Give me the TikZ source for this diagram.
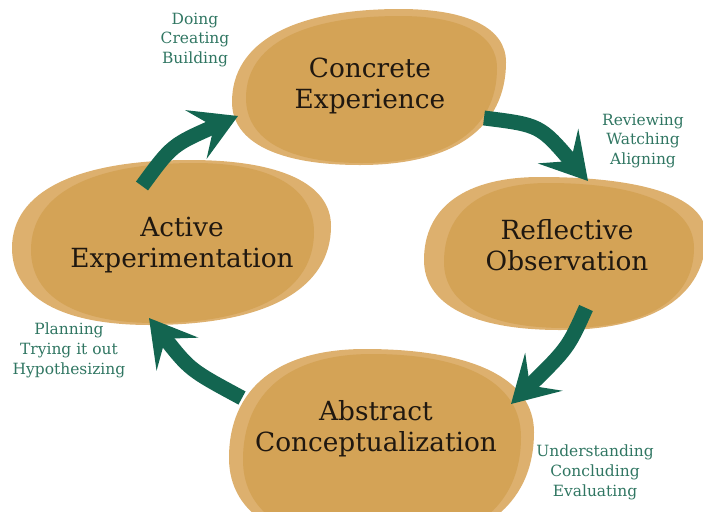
\documentclass[tikz,border=0pt]{standalone}
\usepackage{fontspec}
\setmainfont{DejaVu Serif}
\usetikzlibrary{arrows.meta}

\definecolor{blobback}{RGB}{221,176,110}
\definecolor{blobfront}{RGB}{212,163,86}
\definecolor{arrowgreen}{RGB}{19,101,80}
\definecolor{labelgreen}{RGB}{48,118,98}
\definecolor{stagetext}{RGB}{32,24,16}

% rounded blob through its left, top, right and bottom points
\newcommand{\blobpath}[8]{(#1,#2) .. controls (#1,{#2-0.64*(#2-#4)}) and ({#3-0.64*(#3-#1)},#4) .. (#3,#4)
	.. controls ({#3+0.64*(#5-#3)},#4) and (#5,{#6-0.64*(#6-#4)}) .. (#5,#6)
	.. controls (#5,{#6+0.64*(#8-#6)}) and ({#7+0.64*(#5-#7)},#8) .. (#7,#8)
	.. controls ({#7-0.64*(#7-#1)},#8) and (#1,{#2+0.64*(#8-#2)}) .. (#1,#2) -- cycle}

\begin{document}
\begin{tikzpicture}[x=0.02cm, y=-0.02cm,
		back/.style={fill=blobback},
		front/.style={fill=blobfront},
		stage/.style={align=center, text=stagetext, font=\fontsize{15}{17.6}\selectfont},
		doing/.style={align=center, text=labelgreen, font=\fontsize{8.8}{11.3}\selectfont},
		cyclearrow/.style={draw=arrowgreen, line width=8.5pt,
			-{Stealth[length=26pt, width=30pt, inset=11pt]}}]

		\useasboundingbox (0,0) rectangle (703,511);
		\clip (0,0) rectangle (703,511);

		% Concrete Experience
		\fill[back] \blobpath{232}{102}{400}{9}{506}{62}{360}{165};
		\fill[front] \blobpath{246}{98}{400}{16}{497}{68}{362}{163};
		\node[stage] (ce) at (370,86) {Concrete\\Experience};

		% Reflective Observation
		\fill[back] \blobpath{424}{260}{540}{177}{706}{235}{560}{330};
		\fill[front] \blobpath{444}{262}{548}{183}{694}{248}{565}{328};
		\node[stage] (ro) at (567,245) {Reflective\\Observation};

		% Abstract Conceptualization
		\fill[back] \blobpath{229}{458}{365}{349}{534}{432}{380}{548};
		\fill[front] \blobpath{243}{460}{372}{354}{521}{437}{382}{546};
		\node[stage] (ac) at (376,429) {Abstract\\Conceptualization};

		% Active Experimentation
		\fill[back] \blobpath{12}{248}{190}{160}{331}{226}{150}{325};
		\fill[front] \blobpath{31}{250}{195}{163}{314}{232}{155}{323};
		\node[stage] (ae) at (182,245) {Active\\Experimentation};

		% arrow ends on the blob rims
		\coordinate (ae-out) at (142,186);
		\coordinate (ce-in) at (238,116);
		\coordinate (ce-out) at (484,118);
		\coordinate (ro-in) at (588,181);
		\coordinate (ro-out) at (586,308);
		\coordinate (ac-in) at (511,404);
		\coordinate (ac-out) at (242,398);
		\coordinate (ae-in) at (149,318);

		\draw[cyclearrow] (ae-out) .. controls (172,145) .. (ce-in);
		\draw[cyclearrow] (ce-out) .. controls (540,125) .. (ro-in);
		\draw[cyclearrow] (ro-out) .. controls (568,348) .. (ac-in);
		\draw[cyclearrow] (ac-out) .. controls (190,370) .. (ae-in);

		% what each stage involves
		\node[doing] (ce-doing) at (195,40) {Doing\\Creating\\Building};
		\node[doing] (ro-doing) at (643,141) {Reviewing\\Watching\\Aligning};
		\node[doing] (ac-doing) at (595,472) {Understanding\\Concluding\\Evaluating};
		\node[doing] (ae-doing) at (69,350) {Planning\\Trying it out\\Hypothesizing};

	\end{tikzpicture}
\end{document}
